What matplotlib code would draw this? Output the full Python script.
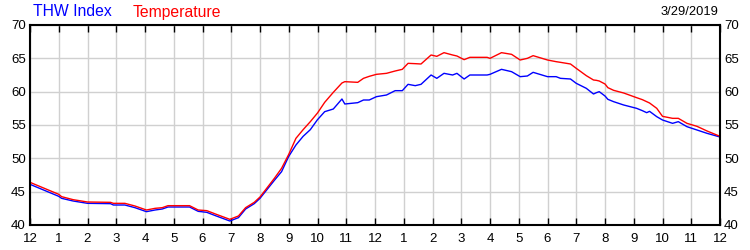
import matplotlib
matplotlib.use('Agg')
import matplotlib.pyplot as plt
import numpy as np

plt.rcParams['font.family'] = ['Liberation Sans', 'DejaVu Sans']

# hours since midnight
hours = [0.0, 0.5, 1.0, 1.1, 1.5, 2.0, 2.8, 2.9, 3.3, 3.65, 4.05, 4.35, 4.6, 4.8,
         5.55, 5.85, 6.15, 6.45, 6.95, 7.25, 7.5, 7.8, 8.0, 8.5, 8.75, 9.0, 9.25,
         9.5, 9.75, 10.0, 10.25, 10.55, 10.85, 10.95, 11.4, 11.6, 11.8, 12.05,
         12.4, 12.7, 12.95, 13.15, 13.4, 13.6, 13.95, 14.15, 14.4, 14.7, 14.85,
         15.1, 15.3, 15.6, 15.9, 16.0, 16.4, 16.75, 17.05, 17.3, 17.5, 18.0, 18.3,
         18.45, 18.8, 19.0, 19.35, 19.6, 19.7, 19.8, 20.0, 20.1, 20.3, 20.65,
         21.1, 21.3, 21.45, 21.55, 21.8, 22.0, 22.35, 22.55, 22.85, 23.2, 23.55, 24.0]

temperature = [46.4, 45.5, 44.6, 44.25, 43.8, 43.45, 43.4, 43.25, 43.25, 42.85, 42.25,
               42.5, 42.6, 42.9, 42.9, 42.25, 42.15, 41.65, 40.85, 41.35, 42.6, 43.4,
               44.2, 47.0, 48.5, 50.6, 53.0, 54.3, 55.5, 56.8, 58.4, 59.9, 61.3, 61.5,
               61.4, 62.0, 62.3, 62.6, 62.75, 63.1, 63.35, 64.25, 64.2, 64.15, 65.5,
               65.3, 65.85, 65.5, 65.35, 64.8, 65.15, 65.15, 65.15, 65.0, 65.85, 65.6,
               64.75, 65.0, 65.4, 64.75, 64.5, 64.4, 64.15, 63.5, 62.4, 61.75, 61.7,
               61.6, 61.15, 60.6, 60.2, 59.8, 59.1, 58.8, 58.5, 58.3, 57.5, 56.3, 56.0,
               56.0, 55.25, 54.8, 54.1, 53.3]

thw_index = [46.1, 45.2, 44.3, 44.0, 43.6, 43.25, 43.2, 43.0, 43.0, 42.6, 42.0, 42.25,
             42.4, 42.7, 42.7, 42.05, 41.9, 41.4, 40.6, 41.1, 42.4, 43.2, 44.0, 46.7,
             48.0, 50.3, 52.0, 53.3, 54.3, 55.8, 57.0, 57.4, 58.9, 58.15, 58.35, 58.75,
             58.75, 59.25, 59.5, 60.15, 60.15, 61.1, 60.9, 61.1, 62.5, 62.0, 62.75,
             62.5, 62.75, 61.9, 62.5, 62.5, 62.5, 62.6, 63.35, 63.0, 62.25, 62.35,
             62.9, 62.25, 62.25, 62.0, 61.9, 61.25, 60.5, 59.65, 59.85, 60.0, 59.35,
             58.85, 58.5, 58.0, 57.5, 57.15, 56.85, 57.05, 56.25, 55.75, 55.25, 55.5,
             54.75, 54.25, 53.75, 53.2]

hour_labels = ['12', '1', '2', '3', '4', '5', '6', '7', '8', '9', '10', '11'] * 2 + ['12']
y_ticks = [40, 45, 50, 55, 60, 65, 70]
date_text = '3/29/2019'

fig = plt.figure(figsize=(7.5, 2.5), dpi=100)
ax = fig.add_axes([0.04, 0.1, 0.92, 0.8])

ax.plot(hours, thw_index, color='#0000ff', lw=1.0)
ax.plot(hours, temperature, color='#ff0000', lw=1.0)

ax.set_xlim(0, 24)
ax.set_ylim(40, 70)
ax.set_xticks(np.arange(25))
ax.set_xticklabels(hour_labels)
ax.set_yticks(y_ticks)
ax.grid(True, color='#d0d0d0', lw=1.0)
ax.set_axisbelow(True)

ax.tick_params(axis='x', direction='in', length=5, width=1, color='black',
               top=True, labelsize=9.5, pad=6)
ax.tick_params(axis='y', length=0, labelsize=9.5, right=True, labelright=True, pad=3)
for s in ax.spines.values():
    s.set_linewidth(1.5)
    s.set_color('black')

fig.text(33 / 750, 1 - 12 / 250, 'THW Index', color='#0000ff', fontsize=11.3,
         ha='left', va='center')
fig.text(133 / 750, 1 - 12 / 250, 'Temperature', color='#ff0000', fontsize=11.3,
         ha='left', va='center')
fig.text(718 / 750, 1 - 12 / 250, date_text, color='black', fontsize=9.3,
         ha='right', va='center')

fig.savefig('out.png', dpi=100)
